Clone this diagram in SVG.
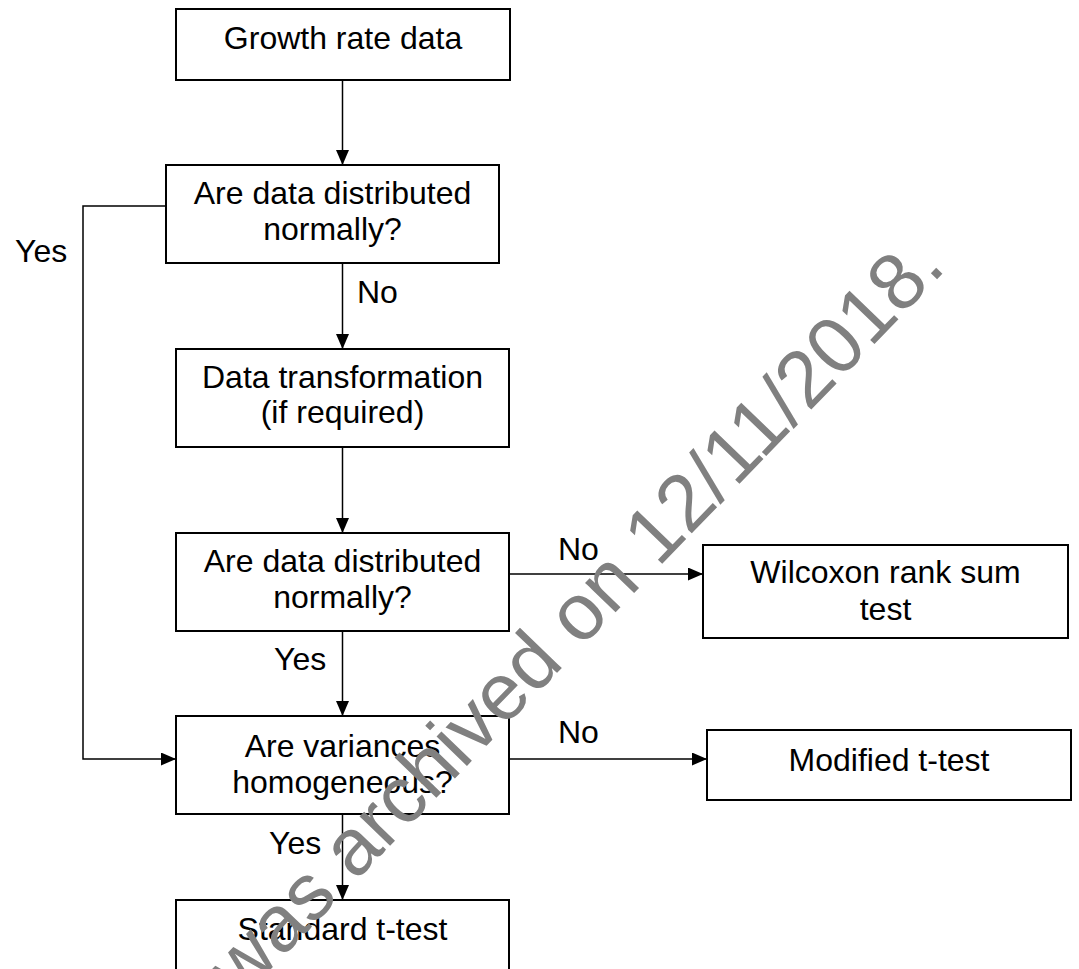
<svg xmlns="http://www.w3.org/2000/svg" width="1079" height="969" viewBox="0 0 1079 969">
<style>
.box{fill:#fff;stroke:#000;stroke-width:2}
.t{font-family:"Liberation Sans",Arial,sans-serif;font-size:32px;fill:#000}
.c{text-anchor:middle}
.ln{fill:none;stroke:#000;stroke-width:1.5}
.wm{font-family:"Liberation Sans",Arial,sans-serif;font-size:80px;fill:#808080}
</style>
<defs>
<marker id="ah" markerUnits="userSpaceOnUse" markerWidth="16" markerHeight="14" refX="15" refY="6.5" orient="auto">
<path d="M0,0 L15,6.5 L0,13 z" fill="#000"/>
</marker>
</defs>
<rect width="1079" height="969" fill="#fff"/>
<g id="connectors">
<path class="ln" d="M342.5,80 V165" marker-end="url(#ah)"/>
<path class="ln" d="M342.5,263 V349" marker-end="url(#ah)"/>
<path class="ln" d="M342.5,447 V533" marker-end="url(#ah)"/>
<path class="ln" d="M509,574 H703" marker-end="url(#ah)"/>
<path class="ln" d="M342.5,631 V716" marker-end="url(#ah)"/>
<path class="ln" d="M166,206 H83 V759 H176" marker-end="url(#ah)"/>
<path class="ln" d="M509,759 H707" marker-end="url(#ah)"/>
<path class="ln" d="M342.5,814 V900" marker-end="url(#ah)"/>
<text class="t" x="15" y="262">Yes</text>
<text class="t" x="357" y="303">No</text>
<text class="t" x="558" y="560">No</text>
<text class="t" x="274" y="670">Yes</text>
<text class="t" x="558" y="743">No</text>
<text class="t" x="269" y="854">Yes</text>
</g>
<g id="n1">
<rect class="box" x="176" y="9" width="334" height="71"/>
<text class="t c" x="343" y="49">Growth rate data</text>
</g>
<g id="n2">
<rect class="box" x="166" y="165" width="333" height="98"/>
<text class="t c" x="332.5" y="204">Are data distributed</text>
<text class="t c" x="332.5" y="240">normally?</text>
</g>
<g id="n3">
<rect class="box" x="176" y="349" width="333" height="98"/>
<text class="t c" x="342.5" y="388">Data transformation</text>
<text class="t c" x="342.5" y="423">(if required)</text>
</g>
<g id="n4">
<rect class="box" x="176" y="533" width="333" height="98"/>
<text class="t c" x="342.5" y="572">Are data distributed</text>
<text class="t c" x="342.5" y="608">normally?</text>
</g>
<g id="n5">
<rect class="box" x="703" y="545" width="365" height="93"/>
<text class="t c" x="885.5" y="583">Wilcoxon rank sum</text>
<text class="t c" x="885.5" y="620">test</text>
</g>
<g id="n6">
<rect class="box" x="176" y="716" width="333" height="98"/>
<text class="t c" x="342.5" y="757">Are variances</text>
<text class="t c" x="342.5" y="793">homogeneous?</text>
</g>
<g id="n7">
<rect class="box" x="707" y="730" width="364" height="70"/>
<text class="t c" x="889" y="771">Modified t-test</text>
</g>
<g id="n8">
<rect class="box" x="176" y="900" width="333" height="100"/>
<text class="t c" x="342.5" y="940">Standard t-test</text>
</g>
<text class="wm" transform="translate(241,1000) rotate(-46)">was archived on 12/11/2018.</text>
</svg>
